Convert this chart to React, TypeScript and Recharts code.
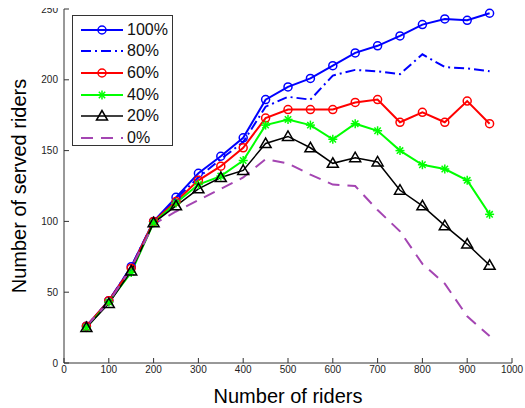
import { Label, Line, LineChart, XAxis, YAxis } from "recharts";

const riders = [50, 100, 150, 200, 250, 300, 350, 400, 450, 500, 550, 600, 650, 700, 750, 800, 850, 900, 950];
const served100 = [26, 44, 68, 100, 117, 134, 146, 159, 186, 195, 201, 210, 219, 224, 231, 239, 243, 242, 247];
const served80 = [26, 44, 68, 100, 116, 131, 144, 156, 181, 188, 186, 203, 207, 206, 204, 218, 209, 208, 206];
const served60 = [26, 44, 67, 100, 114, 129, 139, 152, 173, 179, 179, 179, 184, 186, 170, 177, 170, 185, 169];
const served40 = [25, 43, 64, 99, 113, 126, 132, 143, 168, 172, 168, 158, 169, 164, 150, 140, 137, 129, 105];
const served20 = [25, 42, 65, 99, 111, 123, 131, 136, 155, 160, 152, 141, 145, 142, 122, 111, 97, 84, 69];
const served0 = [26, 43, 67, 98, 107, 115, 123, 131, 144, 141, 133, 126, 125, 108, 93, 70, 56, 33, 19];

const xTicks = [0, 100, 200, 300, 400, 500, 600, 700, 800, 900, 1000];
const yTicks = [0, 50, 100, 150, 200, 250];
const legendNames = ["100%", "80%", "60%", "40%", "20%", "0%"];

const BLUE = "#0000ff";
const RED = "#ff0000";
const GREEN = "#00ff00";
const BLACK = "#000000";
const PURPLE = "#a445b2";
const AXIS = "#333333";

const data = riders.map((r, i) => ({
  riders: r,
  p100: served100[i],
  p80: served80[i],
  p60: served60[i],
  p40: served40[i],
  p20: served20[i],
  p0: served0[i],
}));

function Star(props: any) {
  const { cx, cy, index, stroke } = props;
  if (cx == null || cy == null) return null;
  const s = 4.5;
  const d = 3.2;
  return (
    <g key={`star-${index}`} stroke={stroke} strokeWidth={1.5}>
      <line x1={cx - s} y1={cy} x2={cx + s} y2={cy} />
      <line x1={cx} y1={cy - s} x2={cx} y2={cy + s} />
      <line x1={cx - d} y1={cy - d} x2={cx + d} y2={cy + d} />
      <line x1={cx - d} y1={cy + d} x2={cx + d} y2={cy - d} />
    </g>
  );
}

function Triangle(props: any) {
  const { cx, cy, index, stroke } = props;
  if (cx == null || cy == null) return null;
  return (
    <polygon
      key={`tri-${index}`}
      points={`${cx},${cy - 5.5} ${cx - 5.5},${cy + 4} ${cx + 5.5},${cy + 4}`}
      fill="none"
      stroke={stroke}
      strokeWidth={1.5}
    />
  );
}

const circleDot = (color: string) => ({ r: 4, stroke: color, strokeWidth: 1.5, fill: "none" });

// legend samples, same look as the series
function Sample({ i }: { i: number }) {
  const y = 10;
  const line = (color: string, w: number, dash?: string) => (
    <line x1={8} y1={y} x2={50} y2={y} stroke={color} strokeWidth={w} strokeDasharray={dash} />
  );
  return (
    <svg width={54} height={20} style={{ display: "block" }}>
      {i === 0 && (
        <>
          {line(BLUE, 2)}
          <circle cx={29} cy={y} r={4} stroke={BLUE} strokeWidth={1.5} fill="none" />
        </>
      )}
      {i === 1 && line(BLUE, 2, "10 4 2 4")}
      {i === 2 && (
        <>
          {line(RED, 2)}
          <circle cx={29} cy={y} r={4} stroke={RED} strokeWidth={1.5} fill="none" />
        </>
      )}
      {i === 3 && (
        <>
          {line(GREEN, 2)}
          <Star cx={29} cy={y} stroke={GREEN} index={0} />
        </>
      )}
      {i === 4 && (
        <>
          {line(BLACK, 1.5)}
          <Triangle cx={29} cy={y} stroke={BLACK} index={0} />
        </>
      )}
      {i === 5 && line(PURPLE, 2, "12 8")}
    </svg>
  );
}

export default function App() {
  return (
    <div style={{ position: "relative", width: 517, height: 400, fontFamily: "'Liberation Sans', Arial, sans-serif" }}>
      <style>{`body { margin: 8px 0 0 8px; } .recharts-surface { overflow: visible; } .recharts-wrapper { overflow: visible; }`}</style>
      <LineChart width={517} height={400} data={data} margin={{ top: 1, right: 13, left: 0, bottom: 0 }}>
        <XAxis
          dataKey="riders"
          type="number"
          domain={[0, 1000]}
          ticks={xTicks}
          interval={0}
          height={45}
          tickSize={-5}
          tickMargin={8}
          stroke={AXIS}
          tick={{ fill: "#222", fontSize: 10 }}
        >
          <Label value="Number of riders" position="center" dy={10} style={{ fontSize: 20, fill: "#000" }} />
        </XAxis>
        <XAxis
          xAxisId="top"
          orientation="top"
          type="number"
          domain={[0, 1000]}
          ticks={xTicks}
          interval={0}
          height={0}
          tickSize={-5}
          stroke={AXIS}
          tickFormatter={() => ""}
        />
        <YAxis
          type="number"
          domain={[0, 250]}
          ticks={yTicks}
          interval={0}
          width={56}
          tickSize={-5}
          tickMargin={11}
          stroke={AXIS}
          tick={{ fill: "#222", fontSize: 10 }}
        >
          <Label
            value="Number of served riders"
            position="center"
            angle={-90}
            dx={-17}
            style={{ fontSize: 20, fill: "#000", textAnchor: "middle" }}
          />
        </YAxis>
        <YAxis
          yAxisId="right"
          orientation="right"
          type="number"
          domain={[0, 250]}
          ticks={yTicks}
          interval={0}
          width={0}
          tickSize={-5}
          stroke={AXIS}
          tickFormatter={() => ""}
        />
        <Line dataKey="p100" stroke={BLUE} strokeWidth={2} dot={circleDot(BLUE)} isAnimationActive={false} />
        <Line dataKey="p80" stroke={BLUE} strokeWidth={2} strokeDasharray="10 4 2 4" dot={false} isAnimationActive={false} />
        <Line dataKey="p60" stroke={RED} strokeWidth={2} dot={circleDot(RED)} isAnimationActive={false} />
        <Line dataKey="p40" stroke={GREEN} strokeWidth={2} dot={<Star />} isAnimationActive={false} />
        <Line dataKey="p20" stroke={BLACK} strokeWidth={1.5} dot={<Triangle />} isAnimationActive={false} />
        <Line dataKey="p0" stroke={PURPLE} strokeWidth={2} strokeDasharray="12 8" dot={false} isAnimationActive={false} />
      </LineChart>
      <div
        style={{
          position: "absolute",
          left: 64,
          top: 7,
          width: 101,
          height: 131,
          paddingTop: 3,
          border: `1px solid ${AXIS}`,
          background: "#fff",
          boxSizing: "border-box",
        }}
      >
        {legendNames.map((name, i) => (
          <div key={name} style={{ display: "flex", alignItems: "center", height: 21.6 }}>
            <Sample i={i} />
            <span style={{ fontSize: 16, color: "#111", lineHeight: "20px" }}>{name}</span>
          </div>
        ))}
      </div>
    </div>
  );
}
